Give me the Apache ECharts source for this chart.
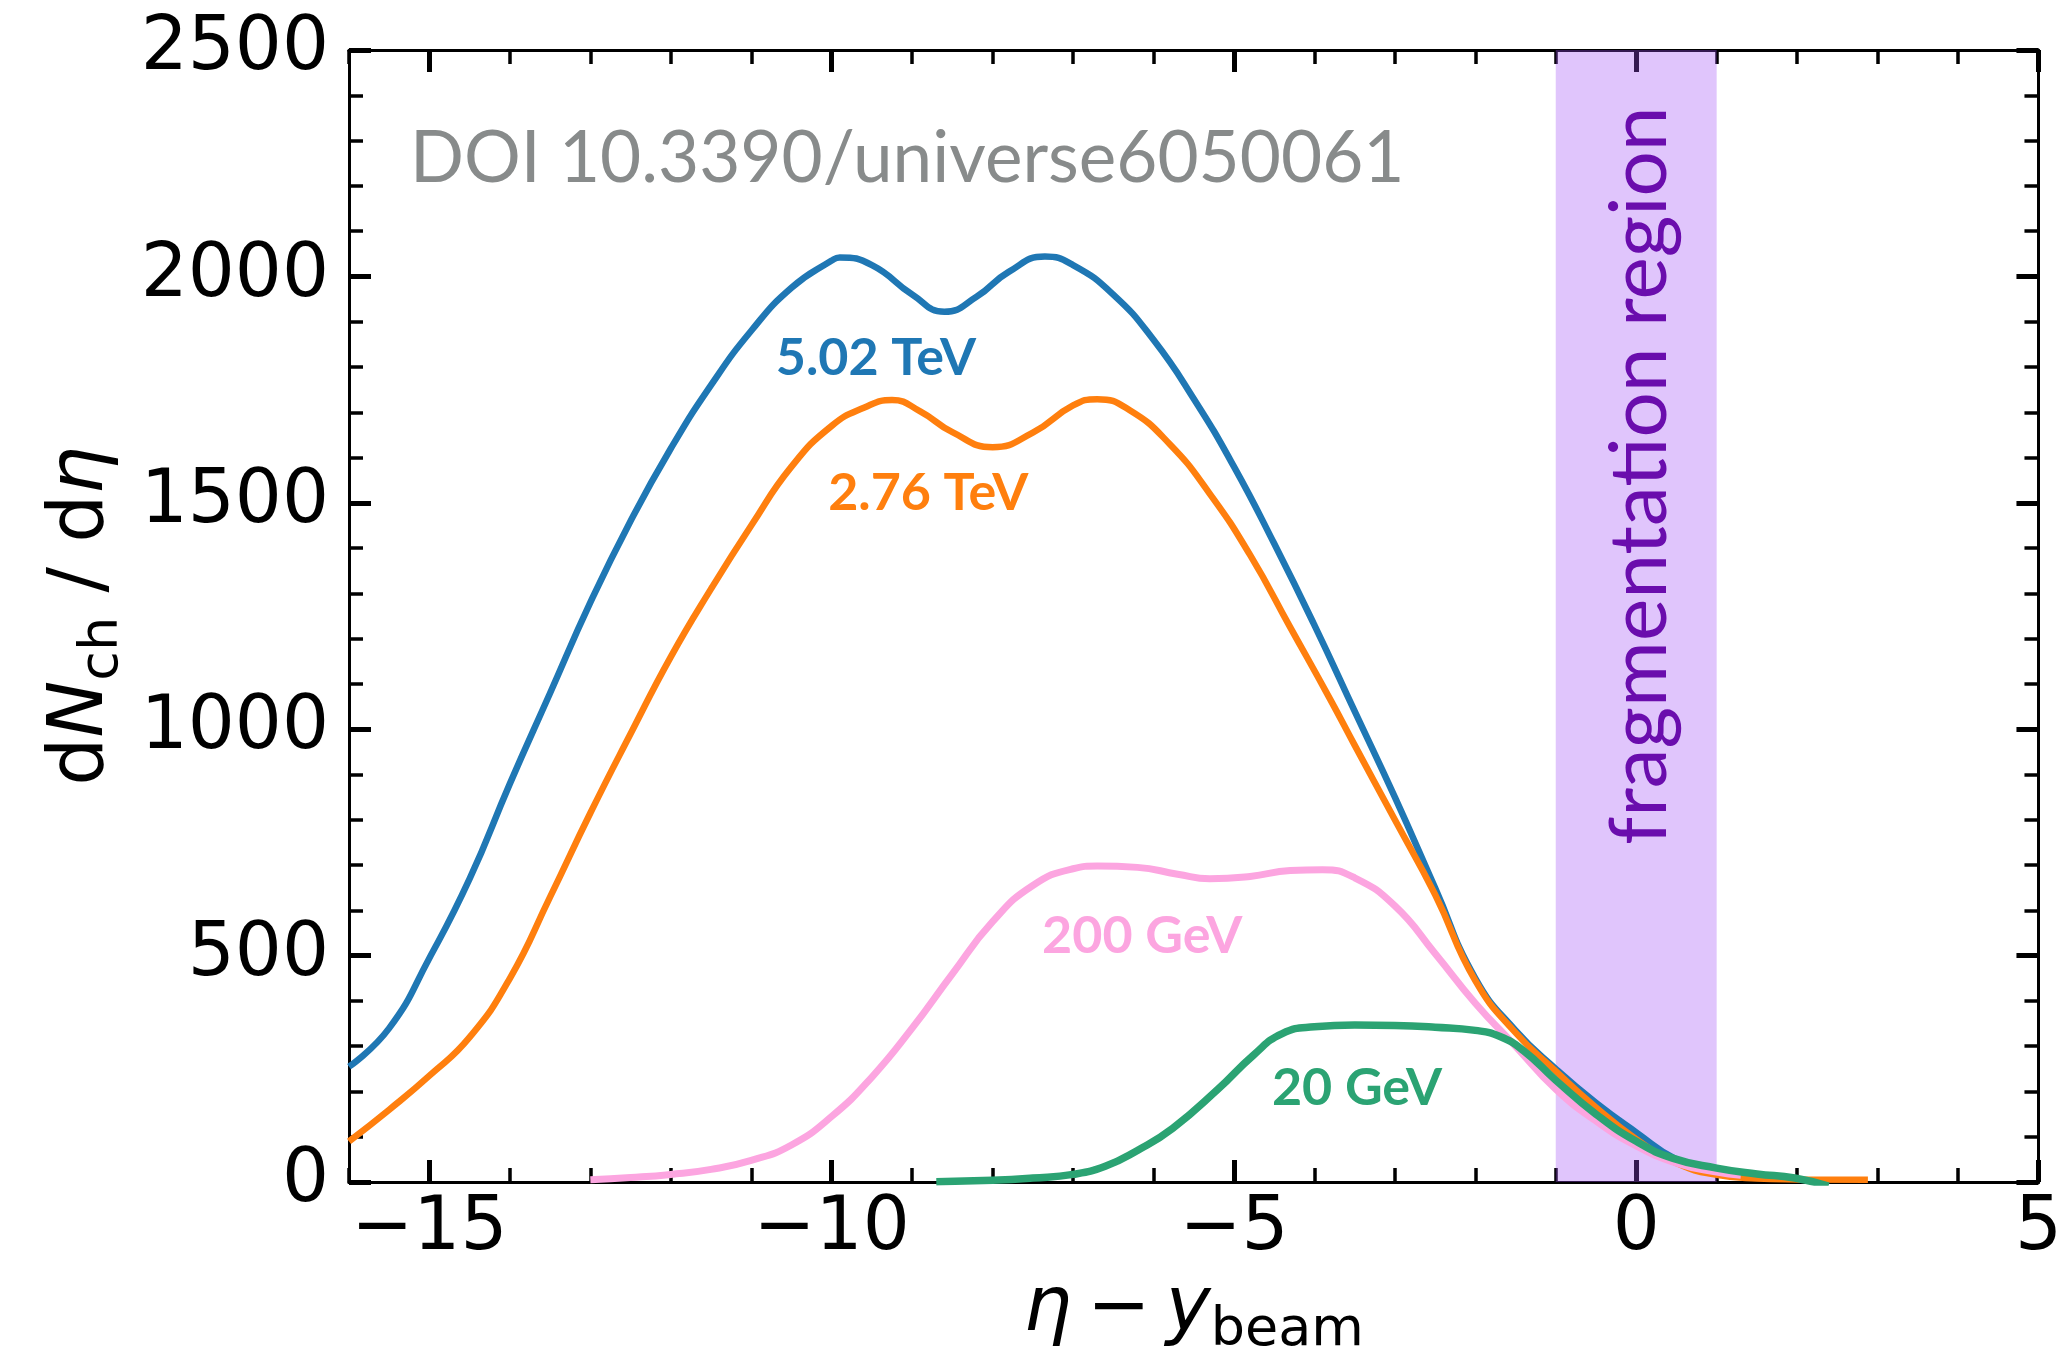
<!DOCTYPE html>
<html><head><meta charset="utf-8">
<script src="https://cdn.jsdelivr.net/npm/echarts@6/dist/echarts.min.js"></script>
<style>html,body{margin:0;padding:0;background:#fff}#c{width:2065px;height:1363px}</style>
</head><body><div id="c"></div>
<script>
// ---- data (eta - y_beam, dNch/deta) ----
const eta502 = [-16, -15.5, -15, -14.5, -14, -13.5, -13, -12.5, -12, -11.5, -11, -10.5, -10, -9.9, -9.5, -9.0, -8.6, -8.2, -7.8, -7.35, -7.0, -6.5, -6.0, -5.5, -5.0, -4.5, -4.0, -3.5, -3.0, -2.5, -2.0, -1.5, -1.0, -0.5, 0, 0.5, 1.0, 1.5, 2.0];
const dn502  = [255, 340, 495, 670, 880, 1080, 1280, 1460, 1620, 1760, 1880, 1975, 2035, 2042, 2025, 1960, 1922, 1955, 2010, 2044, 2025, 1960, 1860, 1730, 1580, 1410, 1230, 1040, 850, 650, 450, 335, 250, 175, 110, 50, 22, 12, 8];

const eta276 = [-16, -15.5, -15, -14.5, -14, -13.5, -13, -12.5, -12, -11.5, -11, -10.5, -10, -9.6, -9.25, -8.9, -8.5, -8.0, -7.5, -7.0, -6.7, -6.3, -5.8, -5.3, -4.8, -4.3, -3.8, -3.5, -3.0, -2.5, -2.0, -1.5, -1.0, -0.5, 0, 0.5, 1.0, 1.5, 2.0, 2.88];
const dn276  = [90, 160, 235, 320, 450, 630, 815, 990, 1160, 1310, 1450, 1580, 1670, 1710, 1727, 1702, 1656, 1623, 1655, 1715, 1729, 1705, 1630, 1520, 1385, 1225, 1065, 965, 800, 635, 445, 330, 245, 165, 95, 42, 16, 8, 6, 5];

const eta200 = [-13, -12.5, -12, -11.5, -11, -10.5, -10, -9.5, -9, -8.5, -8, -7.5, -7, -6.7, -6.2, -5.7, -5.3, -4.8, -4.3, -3.9, -3.5, -3.0, -2.5, -2.0, -1.5, -1.0, -0.5, 0, 0.5, 1.0, 1.3];
const dn200  = [5, 10, 17, 28, 48, 82, 145, 232, 340, 460, 575, 655, 692, 698, 695, 680, 670, 675, 688, 690, 672, 610, 505, 395, 300, 205, 135, 80, 42, 22, 15];

const eta20 = [-8.7, -8, -7.5, -7, -6.6, -6.2, -5.76, -5.2, -4.76, -4.4, -4.0, -3.5, -3.0, -2.5, -2.0, -1.7, -1.4, -1.0, -0.5, 0, 0.45, 1.0, 1.5, 1.97, 2.39];
const dn20  = [1, 4, 9, 17, 35, 70, 119, 205, 280, 328, 343, 347, 346, 342, 335, 322, 290, 225, 150, 90, 53, 31, 18, 9, -9];

const seriesNames = ['5.02 TeV', '2.76 TeV', '200 GeV', '20 GeV'];
const fragRange = [-1, 1];
const fragText = 'fragmentation region';
const doiText = 'DOI 10.3390/universe6050061';

// ---- tick labels ----
const xMajorTicks = [-15, -10, -5, 0, 5];
const xMinorTicks = [-16, -14, -13, -12, -11, -9, -8, -7, -6, -4, -3, -2, -1, 1, 2, 3, 4];
const yMin = 0, yMax = 2500, yStep = 500;
const xMin = -16, xMax = 5;

function pairs(xs, ys) { return xs.map((x, i) => [x, ys[i]]); }
const minus = v => String(v).replace('-', '\u2212');

const FONT = 'DejaVu Sans';
const lineStyleAxis = { color: '#000', width: 3 };
const richName = {
  r: { fontFamily: FONT, fontSize: 76, color: '#000', lineHeight: 96 },
  i: { fontFamily: FONT, fontStyle: 'italic', fontSize: 76, color: '#000', lineHeight: 96 },
  s: { fontFamily: FONT, fontSize: 54, color: '#000', lineHeight: 54, verticalAlign: 'bottom' }
};

function xAx(pos, ticks, len, w, withLabel) {
  const a = {
    type: 'value', min: xMin, max: xMax, position: pos,
    axisLine: { show: true, onZero: false, lineStyle: lineStyleAxis },
    axisTick: { show: true, inside: true, length: len, lineStyle: { color: '#000', width: w }, customValues: ticks },
    axisLabel: { show: false },
    splitLine: { show: false }
  };
  if (withLabel) {
    a.axisLabel = { show: true, customValues: xMajorTicks, formatter: minus, fontFamily: FONT, fontSize: 74, color: '#000', margin: 11 };
    a.name = '{i|η}{r|\u2009\u2212\u2009}{i|y}{s|beam}';
    a.nameLocation = 'middle';
    a.nameGap = 64;
    a.nameTextStyle = { rich: richName };
  }
  return a;
}
function yAx(pos, withLabel) {
  const a = {
    type: 'value', min: yMin, max: yMax, interval: yStep, position: pos,
    axisLine: { show: true, onZero: false, lineStyle: lineStyleAxis },
    axisTick: { show: true, inside: true, length: 22, lineStyle: { color: '#000', width: 5 } },
    minorTick: { show: true, splitNumber: 5, length: 14, lineStyle: { color: '#000', width: 3.5 } },
    axisLabel: { show: false },
    splitLine: { show: false }, minorSplitLine: { show: false }
  };
  if (withLabel) {
    a.axisLabel = { show: true, formatter: v => String(v), fontFamily: FONT, fontSize: 74, color: '#000', margin: 20 };
    a.name = '{r|d}{i|N}{s|ch}{r| / d}{i|η}';
    a.nameLocation = 'middle';
    a.nameRotate = 90;
    a.nameGap = 193;
    a.nameTextStyle = { rich: richName };
  }
  return a;
}

const colors = ['#1f77b4', '#ff7f0e', '#fca5e0', '#2ba373'];
const widths = [6.5, 6.5, 7, 7.5];
const labelAt = [[-9.45, 1819], [-8.80, 1521], [-6.14, 543], [-3.47, 208]];
const dataSets = [pairs(eta502, dn502), pairs(eta276, dn276), pairs(eta200, dn200), pairs(eta20, dn20)];

const series = dataSets.map((d, k) => ({
  name: seriesNames[k], type: 'line', data: d, showSymbol: false, smooth: 0.5,
  xAxisIndex: 0, yAxisIndex: 0, z: 2 + k,
  lineStyle: { color: colors[k], width: widths[k] }, itemStyle: { color: colors[k] },
  markPoint: {
    silent: true, symbol: 'circle', symbolSize: 0,
    label: { show: true, position: 'inside', formatter: seriesNames[k], color: colors[k], fontFamily: 'Lato', fontWeight: 'bold', fontSize: 52 },
    data: [{ coord: labelAt[k] }]
  }
}));
series.push({
  name: 'band', type: 'line', data: [], z: 10, xAxisIndex: 0, yAxisIndex: 0,
  markArea: { silent: true, itemStyle: { color: 'rgba(160,80,245,0.33)' }, data: [[{ xAxis: fragRange[0] }, { xAxis: fragRange[1] }]] },
  markPoint: {
    silent: true, symbol: 'circle', symbolSize: 0,
    label: { show: true, position: 'inside', rotate: 90, formatter: fragText, color: '#6a0dad', fontFamily: 'Lato', fontSize: 80 },
    data: [{ coord: [0.05, 1560] }]
  }
});

const chart = echarts.init(document.getElementById('c'), null, { renderer: 'canvas' });
chart.setOption({
  animation: false,
  backgroundColor: '#fff',
  title: { text: doiText, left: 410, top: 124, padding: 0, textStyle: { fontFamily: 'Lato', fontSize: 71, fontWeight: 'normal', color: '#888b8b' } },
  grid: { left: 349, right: 18, top: 50, bottom: 172, containLabel: false },
  xAxis: [
    xAx('bottom', xMajorTicks, 22, 5, true),
    xAx('bottom', xMinorTicks, 14, 3.5, false),
    xAx('top', xMajorTicks, 22, 5, false),
    xAx('top', xMinorTicks, 14, 3.5, false)
  ],
  yAxis: [yAx('left', true), yAx('right', false)],
  series: series
});
</script></body></html>
